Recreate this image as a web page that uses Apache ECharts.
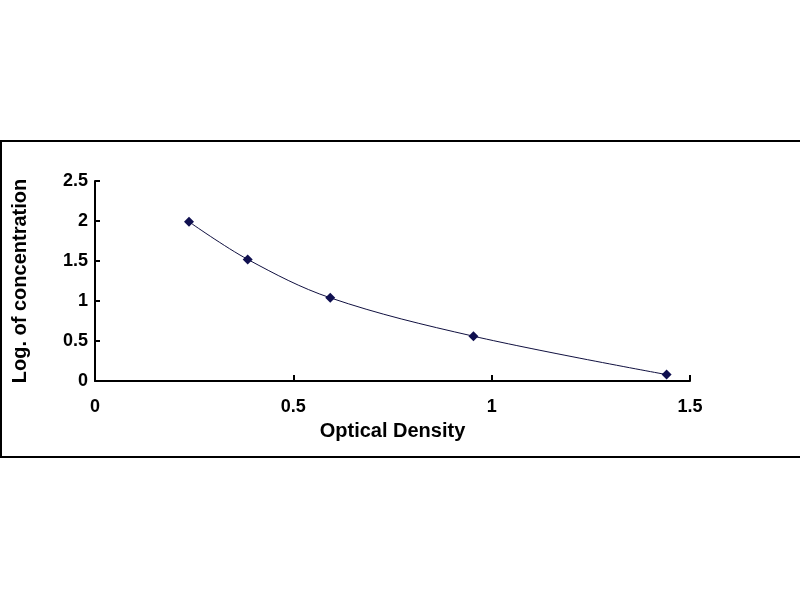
<!DOCTYPE html>
<html>
<head>
<meta charset="utf-8">
<script src="https://cdn.jsdelivr.net/npm/echarts@6/dist/echarts.min.js"></script>
<style>
    html,body{margin:0;padding:0;background:#fff;}
    #main{width:800px;height:600px;}
</style>
</head>
<body>
<div id="main"></div>
<script>
// standard curve readings
var opticalDensity = [0.237, 0.385, 0.593, 0.954, 1.441];
var logConcentration = [1.99, 1.52, 1.04, 0.56, 0.08];

var xTicks = [0, 0.5, 1, 1.5];
var yTicks = [0, 0.5, 1, 1.5, 2, 2.5];

var points = opticalDensity.map(function(x, i){ return [x, logConcentration[i]]; });

var dom = document.getElementById('main');
var myChart = echarts.init(dom, null, { renderer: 'canvas' });

var labelFont = { color: '#000', fontFamily: 'Liberation Sans, Arial', fontWeight: 'bold', fontSize: 18 };
var nameFont = { color: '#000', fontFamily: 'Liberation Sans, Arial', fontWeight: 'bold', fontSize: 20 };

var option = {
    animation: false,
    backgroundColor: '#fff',
    grid: { left: 95, right: 110, top: 181, bottom: 219 },
    graphic: [
        {
            type: 'rect',
            shape: { x: 1, y: 141, width: 810, height: 316 },
            style: { fill: 'none', stroke: '#000', lineWidth: 2 },
            z: -1
        }
    ],
    xAxis: {
        type: 'value',
        min: xTicks[0],
        max: xTicks[xTicks.length - 1],
        interval: 0.5,
        name: 'Optical Density',
        nameLocation: 'middle',
        nameGap: 40,
        nameTextStyle: nameFont,
        axisLine: { lineStyle: { color: '#000', width: 2 } },
        axisTick: { inside: true, length: 6, lineStyle: { color: '#000', width: 2 } },
        axisLabel: Object.assign({ margin: 17 }, labelFont),
        splitLine: { show: false }
    },
    yAxis: {
        type: 'value',
        min: yTicks[0],
        max: yTicks[yTicks.length - 1],
        interval: 0.5,
        name: 'Log. of concentration',
        nameLocation: 'middle',
        nameGap: 65,
        nameTextStyle: nameFont,
        axisLine: { show: true, lineStyle: { color: '#000', width: 2 } },
        axisTick: { show: true, inside: true, length: 5, lineStyle: { color: '#000', width: 2 } },
        axisLabel: Object.assign({ margin: 7 }, labelFont),
        splitLine: { show: false }
    },
    series: [
        {
            type: 'line',
            data: points,
            smooth: 0.35,
            symbol: 'diamond',
            symbolSize: 10,
            itemStyle: { color: '#101050' },
            lineStyle: { color: '#101040', width: 1 }
        }
    ]
};

myChart.setOption(option);
</script>
</body>
</html>
